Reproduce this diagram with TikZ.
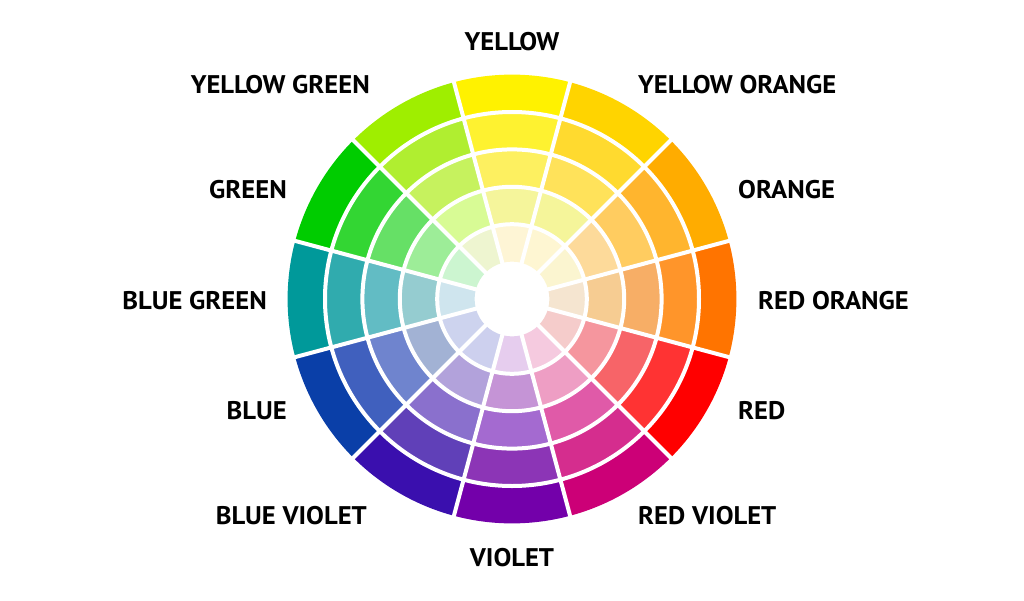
\documentclass[tikz,border=0pt]{standalone}
\usepackage{fontspec}
\setmainfont{PT Sans}[FakeStretch=1.045]
\definecolor{Y5}{HTML}{FFF200}\definecolor{Y4}{HTML}{FEF230}\definecolor{Y3}{HTML}{FDF060}\definecolor{Y2}{HTML}{F5F59B}\definecolor{Y1}{HTML}{FEF5D5}
\definecolor{YO5}{HTML}{FFD400}\definecolor{YO4}{HTML}{FFDA2F}\definecolor{YO3}{HTML}{FFE25A}\definecolor{YO2}{HTML}{F5F59A}\definecolor{YO1}{HTML}{FEF6D2}
\definecolor{O5}{HTML}{FFAC00}\definecolor{O4}{HTML}{FFB52E}\definecolor{O3}{HTML}{FFCC60}\definecolor{O2}{HTML}{FDDA9A}\definecolor{O1}{HTML}{FBF5D0}
\definecolor{RO5}{HTML}{FF7400}\definecolor{RO4}{HTML}{FF952A}\definecolor{RO3}{HTML}{F7AE66}\definecolor{RO2}{HTML}{F6CC92}\definecolor{RO1}{HTML}{F5E5D0}
\definecolor{R5}{HTML}{FF0000}\definecolor{R4}{HTML}{FF3333}\definecolor{R3}{HTML}{F76468}\definecolor{R2}{HTML}{F5969E}\definecolor{R1}{HTML}{F5CCCB}
\definecolor{RV5}{HTML}{CC0077}\definecolor{RV4}{HTML}{D52D8E}\definecolor{RV3}{HTML}{E05AA8}\definecolor{RV2}{HTML}{EE9EC4}\definecolor{RV1}{HTML}{F5CADF}
\definecolor{V5}{HTML}{7300AA}\definecolor{V4}{HTML}{8C35B6}\definecolor{V3}{HTML}{A46AD0}\definecolor{V2}{HTML}{C594D6}\definecolor{V1}{HTML}{E6CDEE}
\definecolor{BV5}{HTML}{3A0FAE}\definecolor{BV4}{HTML}{6040B8}\definecolor{BV3}{HTML}{8A70CD}\definecolor{BV2}{HTML}{B2A2DB}\definecolor{BV1}{HTML}{CDD0EE}
\definecolor{B5}{HTML}{0A3FA8}\definecolor{B4}{HTML}{4060BE}\definecolor{B3}{HTML}{6F84CE}\definecolor{B2}{HTML}{A2B2D4}\definecolor{B1}{HTML}{CDD3EE}
\definecolor{BG5}{HTML}{00999A}\definecolor{BG4}{HTML}{30ABAE}\definecolor{BG3}{HTML}{62BCC4}\definecolor{BG2}{HTML}{95CCD0}\definecolor{BG1}{HTML}{CFE5EE}
\definecolor{G5}{HTML}{00CC00}\definecolor{G4}{HTML}{33D633}\definecolor{G3}{HTML}{66E066}\definecolor{G2}{HTML}{9DED98}\definecolor{G1}{HTML}{CCF5D0}
\definecolor{YG5}{HTML}{9FEE00}\definecolor{YG4}{HTML}{B0EE30}\definecolor{YG3}{HTML}{C6F25E}\definecolor{YG2}{HTML}{D8FB95}\definecolor{YG1}{HTML}{EEF5D0}
\tikzset{lab/.style={font=\fontsize{25.5}{30}\selectfont\bfseries, text=black, inner sep=0pt},
  gap/.style={white, line width=4pt}}
\begin{document}
\begin{tikzpicture}[x=1pt,y=1pt]
\useasboundingbox[fill=white] (-512,-301) rectangle (512,299);
\def\rr{37.4}
\foreach \a/\c in {90/Y,60/YO,30/O,0/RO,-30/R,-60/RV,-90/V,-120/BV,-150/B,180/BG,150/G,120/YG} {
  \foreach \k in {1,...,5} {
    \pgfmathsetmacro\rin{\rr*\k}
    \pgfmathsetmacro\rout{\rr*(\k+1)}
    \pgfmathsetmacro\sa{\a-15}
    \pgfmathsetmacro\ea{\a+15}
    \fill[fill=\c\k] (\sa:\rin) arc[start angle=\sa, end angle=\ea, radius=\rin] -- (\ea:\rout) arc[start angle=\ea, end angle=\sa, radius=\rout] -- cycle;
  }
}
\foreach \k in {2,...,5} { \draw[gap] (0,0) circle[radius=\rr*\k]; }
\foreach \a in {15,45,...,345} { \draw[gap] (\a:30) -- (\a:232); }
\node[lab, anchor=base] (yellow) at (0,248) {YELLOW};
\node[lab, anchor=base west] (yelloworange) at (126,205) {YELLOW ORANGE};
\node[lab, anchor=base west] (orange) at (226,101) {ORANGE};
\node[lab, anchor=base west] (redorange) at (246,-10) {RED ORANGE};
\node[lab, anchor=base west] (red) at (226,-120) {RED};
\node[lab, anchor=base west] (redviolet) at (126,-225) {RED VIOLET};
\node[lab, anchor=base] (violet) at (0,-267) {VIOLET};
\node[lab, anchor=base east] (blueviolet) at (-145,-225) {BLUE VIOLET};
\node[lab, anchor=base east] (blue) at (-225,-120) {BLUE};
\node[lab, anchor=base east] (bluegreen) at (-245,-10) {BLUE GREEN};
\node[lab, anchor=base east] (green) at (-225,101) {GREEN};
\node[lab, anchor=base east] (yellowgreen) at (-142,205) {YELLOW GREEN};
\end{tikzpicture}
\end{document}
